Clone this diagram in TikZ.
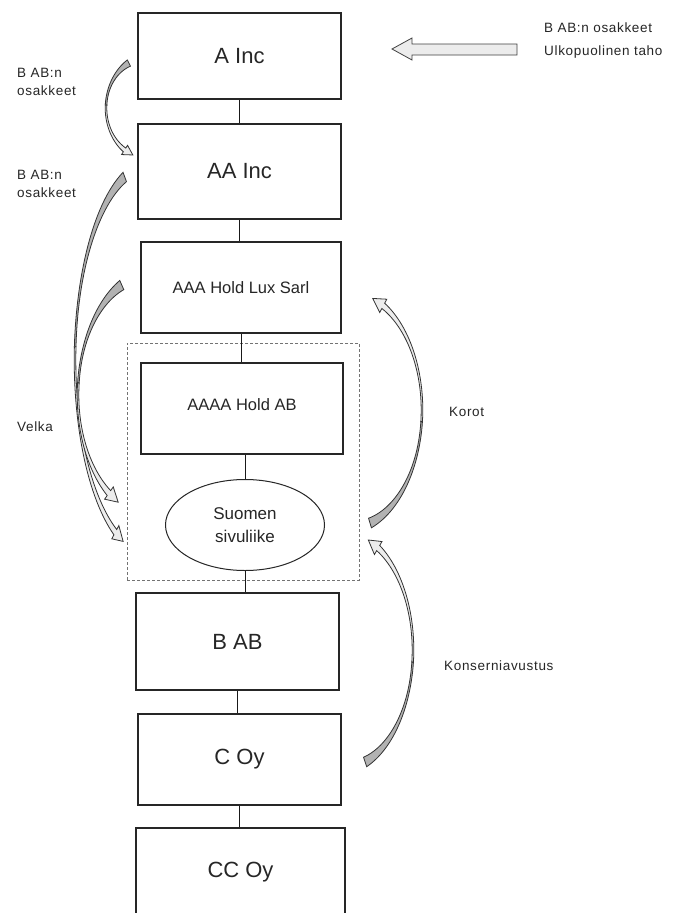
\documentclass[tikz,border=0pt]{standalone}
\usepackage{fontspec}
\setmainfont{Liberation Sans}
\newfontfamily\lblfont[LetterSpace=5]{Liberation Sans}
\usetikzlibrary{shapes.geometric}

\def\CAwm{1.6}
\def\CAhw{6.5}
\newcommand{\CurvArrow}[9]{%
  \def\CAcx{#1}\def\CAcy{#2}\def\CArx{#3}\def\CAry{#4}%
  \def\CAta{#5}\def\CAtb{#6}\def\CAwt{#7}\def\CAwh{#8}%
  \pgfmathsetmacro\CAtm{(#5+#6)/2}%
  \pgfmathsetmacro\CAtip{#6+#9}%
  \filldraw[catail]
    plot[domain=\CAta:\CAtm,samples=30,variable=\t]
      ({\CAcx+(\CArx+0.5*cawid((\t-\CAta)/(\CAtb-\CAta)))*cos(\t)},{\CAcy+(\CAry+0.5*cawid((\t-\CAta)/(\CAtb-\CAta)))*sin(\t)})
    -- plot[domain=\CAtm:\CAta,samples=30,variable=\t]
      ({\CAcx+(\CArx-0.5*cawid((\t-\CAta)/(\CAtb-\CAta)))*cos(\t)},{\CAcy+(\CAry-0.5*cawid((\t-\CAta)/(\CAtb-\CAta)))*sin(\t)})
    -- cycle;
  \filldraw[cahead]
    plot[domain=\CAtm:\CAtb,samples=30,variable=\t]
      ({\CAcx+(\CArx+0.5*cawid((\t-\CAta)/(\CAtb-\CAta)))*cos(\t)},{\CAcy+(\CAry+0.5*cawid((\t-\CAta)/(\CAtb-\CAta)))*sin(\t)})
    -- ({\CAcx+(\CArx+\CAhw)*cos(\CAtb)},{\CAcy+(\CAry+\CAhw)*sin(\CAtb)})
    -- ({\CAcx+\CArx*cos(\CAtip)},{\CAcy+\CAry*sin(\CAtip)})
    -- ({\CAcx+(\CArx-\CAhw)*cos(\CAtb)},{\CAcy+(\CAry-\CAhw)*sin(\CAtb)})
    -- plot[domain=\CAtb:\CAtm,samples=30,variable=\t]
      ({\CAcx+(\CArx-0.5*cawid((\t-\CAta)/(\CAtb-\CAta)))*cos(\t)},{\CAcy+(\CAry-0.5*cawid((\t-\CAta)/(\CAtb-\CAta)))*sin(\t)})
    -- cycle;
}

\begin{document}
\begin{tikzpicture}[x=1pt,y=-1pt,
  declare function={capos(\x)=max(0,\x);
    cawid(\s)=\CAwm+(\CAwt-\CAwm)*capos(1-\s/0.45)*capos(1-\s/0.45)+(\CAwh-\CAwm)*capos((\s-0.55)/0.45)*capos((\s-0.55)/0.45);},
  box/.style={draw=black!85, line width=1.1pt, text=black!85, inner sep=0pt},
  bigtxt/.style={font=\fontsize{22}{26}\selectfont},
  midtxt/.style={font=\fontsize{16.5}{20}\selectfont},
  lbl/.style={font=\lblfont\fontsize{13.5}{18}\selectfont, align=left, inner sep=0pt, text=black!85, anchor=west},
  link/.style={draw=black!90, line width=1pt},
  catail/.style={fill=gray!60, draw=black!80, line width=0.8pt},
  cahead/.style={fill=gray!15, draw=black!80, line width=0.8pt},
  blockarrow/.style={fill=gray!15, draw=black!75, line width=0.8pt}
]
\useasboundingbox (0,0) rectangle (673,913);
\fill[white] (0,0) rectangle (673,913);

% dashed group
\node[draw=black!55, dash pattern=on 3pt off 2pt, line width=0.6pt,
      minimum width=232pt, minimum height=237pt, inner sep=0pt] (grp) at (243,461.5) {};

% boxes
\node[box, bigtxt, minimum width=203pt, minimum height=86pt] (a) at (239.5,56) {A Inc};
\node[box, bigtxt, minimum width=203pt, minimum height=95pt] (aa) at (239.5,171.5) {AA Inc};
\node[box, midtxt, minimum width=200pt, minimum height=91pt] (aaa) at (241,287.5) {AAA Hold Lux Sarl};
\node[box, midtxt, minimum width=202pt, minimum height=91pt, text depth=8pt] (aaaa) at (242,408.5) {AAAA Hold AB};
\node[draw=black!85, line width=1pt, ellipse, minimum width=159pt, minimum height=91pt, inner sep=0pt,
      align=center, text=black!85, font=\fontsize{17}{23}\selectfont] (suomi) at (245,525) {Suomen\\sivuliike};
\node[box, bigtxt, minimum width=203pt, minimum height=97pt] (bab) at (237.5,641.5) {B AB};
\node[box, bigtxt, minimum width=203pt, minimum height=91pt] (coy) at (239.5,759.5) {C Oy};
\node[box, bigtxt, minimum width=209pt, minimum height=88pt] (ccoy) at (240.5,872) {CC Oy};

% connectors
\draw[link] (a.south) -- (a.south |- aa.north);
\draw[link] (aa.south) -- (aa.south |- aaa.north);
\draw[link] (aaa.south) -- (aaa.south |- aaaa.north);
\draw[link] (suomi.north |- aaaa.south) -- (suomi.north);
\draw[link] (suomi.south) -- (suomi.south |- bab.north);
\draw[link] (bab.south) -- (bab.south |- coy.north);
\draw[link] (coy.south) -- (coy.south |- ccoy.north);

% labels
\node[lbl] (l1) at (17,82) {B AB:n\\osakkeet};
\node[lbl] (l2) at (17,183.5) {B AB:n\\osakkeet};
\node[lbl] (velka) at (17,427) {Velka};
\node[lbl] (korot) at (449,412) {Korot};
\node[lbl] (konserni) at (444,666) {Konserniavustus};
\node[lbl] (ext1) at (544,28) {B AB:n osakkeet};
\node[lbl] (ext2) at (544,52) {Ulkopuolinen taho};

% straight block arrow
\filldraw[blockarrow] (517,44) -- (412,44) -- (412,38) -- (392,49) -- (412,60) -- (412,55) -- (517,55) -- cycle;

% curved arrows
\def\CAhw{5.5}
\CurvArrow{146.8}{108}{40.8}{50}{244}{123}{7}{4.5}{-13}
\def\CAhw{7.5}
\CurvArrow{151}{360}{76}{195}{249.8}{118}{10}{6}{-6.5}
\CurvArrow{151}{395}{73}{120}{246.4}{125.2}{10}{6}{-8.5}
\CurvArrow{349}{410}{73}{118}{73.3}{-62}{10}{6}{-9}
\CurvArrow{343}{650}{70}{118}{71.6}{-59.8}{10}{6}{-9}
\end{tikzpicture}
\end{document}
